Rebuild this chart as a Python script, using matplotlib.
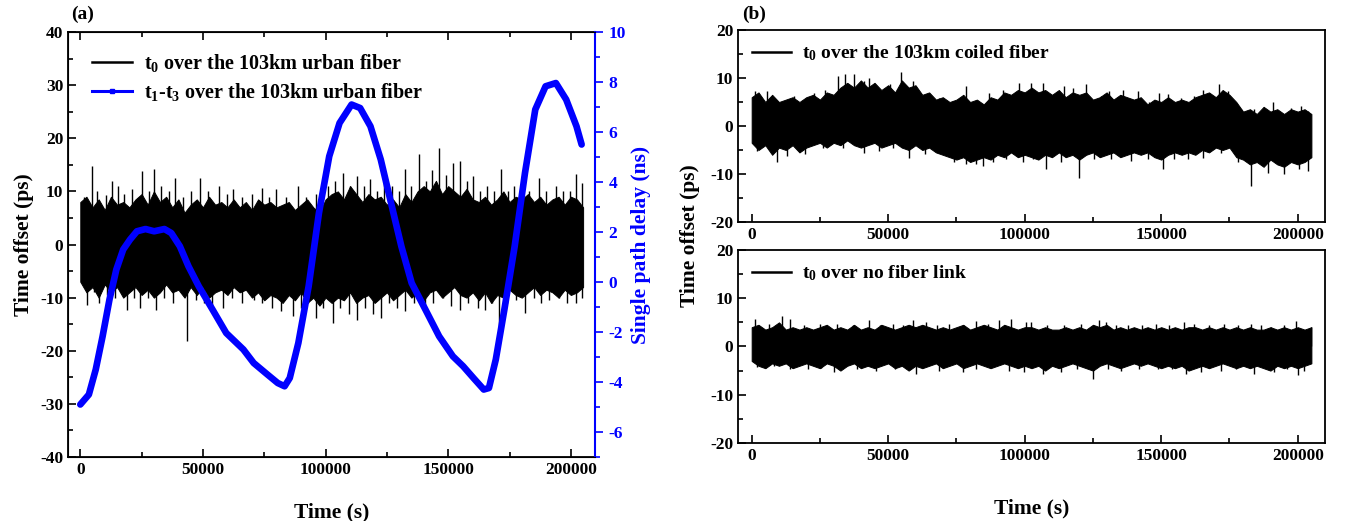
import numpy as np
import matplotlib
matplotlib.use("Agg")
import matplotlib.pyplot as plt
from matplotlib.lines import Line2D
from matplotlib.ticker import MultipleLocator

plt.rcParams['font.family'] = ['Liberation Serif', 'DejaVu Serif']
plt.rcParams['font.weight'] = 'bold'
plt.rcParams['axes.unicode_minus'] = False
plt.rcParams['mathtext.fontset'] = 'custom'
plt.rcParams['mathtext.rm'] = 'Liberation Serif:bold'
plt.rcParams['mathtext.it'] = 'Liberation Serif:bold'
plt.rcParams['mathtext.bf'] = 'Liberation Serif:bold'

# ---- data ----
# single path delay t1-t3 (ns)
delay_t = [0, 3500, 6300, 9100, 11900, 14700, 17500, 20300, 23100, 26600, 30100, 34300,
           37100, 40600, 44100, 48300, 53900, 59500, 66500, 70700, 76300, 80500, 83300,
           85400, 88900, 93100, 97300, 101500, 105700, 110600, 114100, 118300, 122500,
           126700, 130900, 135100, 140700, 146300, 151900, 156100, 160300, 164500, 166600,
           169400, 172900, 177100, 181300, 185500, 189700, 193900, 198100, 202300, 204400]
delay_ns = [-4.9, -4.5, -3.5, -2.17, -0.7, 0.5, 1.3, 1.7, 2.03, 2.12, 2.03, 2.12,
            1.96, 1.43, 0.63, -0.17, -1.1, -2.04, -2.7, -3.24, -3.7, -4.04, -4.17,
            -3.84, -2.44, -0.17, 2.76, 5.03, 6.36, 7.1, 6.96, 6.23, 4.9,
            3.16, 1.43, -0.04, -1.1, -2.17, -2.97, -3.37, -3.84, -4.3, -4.24,
            -3.1, -1.1, 1.43, 4.36, 6.9, 7.83, 7.96, 7.3, 6.23, 5.5]

# t0 traces: edge of the dense black band every 2500 s, plus the single spikes
core_t = list(range(0, 205001, 2500))

urban_hi = [8, 9, 7, 8.5, 6.5, 9, 7.5, 8, 7,
            8.5, 9.5, 7.5, 10, 8, 9, 7, 8.5,
            6, 7.5, 8.5, 7, 9, 7.5, 8, 7,
            8.5, 7, 8, 6.5, 8.5, 7.5, 8, 7,
            7.5, 8, 6.5, 7.5, 8.5, 7, 6, 8.5,
            9.5, 10, 8.5, 11, 9.5, 8, 9.5, 8.5,
            9, 7.5, 8.5, 7, 9.5, 8, 10, 11,
            10, 12, 9.5, 11, 10, 9, 10.5, 8.5,
            8, 9, 7.5, 8.5, 10, 8, 9, 8.5,
            9.5, 8, 9, 7.5, 8.5, 9, 7.5, 9,
            8.5, 7]
urban_lo = [-7, -9, -8, -10, -7.5, -9, -8, -10, -9,
            -8, -9.5, -8.5, -10, -9, -7.5, -9, -8.5,
            -10, -8, -9.5, -8, -10, -9, -8.5, -9.5,
            -8, -9, -8.5, -10, -9, -10.5, -9.5, -10,
            -11, -9.5, -10.5, -9, -11, -10, -11.5, -10,
            -11, -10, -10.5, -9, -11, -10, -9.5, -11,
            -10, -9, -10.5, -9.5, -8.5, -10, -9, -10.5,
            -9, -8.5, -10, -9, -8, -9.5, -10, -9,
            -10.5, -9, -11, -9.5, -10, -8.5, -9.5, -10,
            -9, -8, -9.5, -8.5, -9, -10, -8.5, -9.5,
            -9, -8]
urban_up_t = [1500, 4900, 7000, 10500, 13000, 15400, 18000, 21000, 25200, 28000,
              30100, 33000, 36000, 38500, 42000, 45000, 49000, 52000, 56700, 60000,
              62300, 66000, 70000, 74200, 77000, 79800, 84000, 88900, 92000, 96000,
              98700, 101000, 104000, 107100, 110000, 112700, 115500, 118300, 121000, 123900,
              127000, 130000, 132300, 135000, 137900, 141000, 143500, 146300, 149000, 151900,
              154700, 157500, 160300, 163000, 166000, 168500, 171500, 174500, 177000, 179900,
              183000, 186900, 190000, 193900, 197000, 199500, 202300, 204500]
urban_up_v = [9, 14.8, 10, 9.4, 12, 11, 9.5, 10.5, 13.8, 10,
              14.2, 11, 10, 12.6, 9, 10, 12.6, 10, 11, 9.5,
              10.4, 9, 9.5, 10.7, 9, 10.4, 9, 11, 9, 9.5,
              8.5, 11, 12, 13.5, 11, 12.9, 11, 12.3, 10, 12.3,
              11, 10, 14.2, 11, 17, 12, 14, 18.2, 13, 15.4,
              15.7, 12, 12.9, 10, 11, 10, 14.2, 10, 11, 12.9,
              10, 12.6, 10, 11, 10, 10, 13.2, 11.5]
urban_dn_t = [2800, 5500, 7700, 11000, 14000, 18900, 22000, 24500, 27500, 30800,
              34000, 38000, 43400, 47000, 50500, 53900, 58100, 62000, 66000, 70700,
              74000, 78000, 82000, 86800, 90000, 93000, 95900, 99000, 102900, 106000,
              109500, 112700, 116000, 119500, 122500, 126000, 129000, 132300, 136000, 140700,
              144000, 148000, 151000, 154700, 158000, 162000, 165200, 168000, 170800, 174000,
              177500, 181300, 185000, 188000, 191100, 195000, 198500, 202300, 204500]
urban_dn_v = [-11.3, -9, -11, -9.5, -10, -12.3, -10, -12, -10, -12.3,
              -10, -11, -18.2, -10.5, -11, -12.3, -12, -10, -11, -10.4,
              -11, -12, -12.5, -13.5, -12, -11, -13.8, -12, -14.8, -12,
              -13, -14.2, -12, -13, -13.8, -11, -12, -12.6, -11, -12.3,
              -11, -10, -11.5, -12.3, -11, -12, -12.3, -11, -15.7, -11,
              -10.5, -12.9, -10, -11, -10.4, -10, -11, -11, -10]

coiled_hi = [6, 7, 5, 6.5, 5, 5.5, 6, 5, 6,
             6.5, 5.5, 7, 6.5, 8, 9, 8, 9.5,
             8, 9, 7.5, 8.5, 7, 9.5, 8, 8.5,
             6.5, 7, 5.5, 6, 5, 5.5, 6.5, 5,
             5.5, 4.5, 6, 5.5, 7, 6.5, 7.5, 7,
             8, 7, 7.5, 6.5, 7.5, 6, 7, 6.5,
             7, 5.5, 6, 7, 5.5, 6.5, 6, 5.5,
             6, 4.5, 5.5, 5, 6, 5, 5.5, 5,
             6, 6.5, 7, 6, 7.5, 6.5, 5, 3,
             3.5, 2.5, 4, 3, 3.5, 2.5, 3.5, 3,
             3.5, 2.5]
coiled_lo = [-3.5, -5, -4, -6, -4.5, -5, -4, -5.5, -4.5,
             -4, -3.5, -4.5, -3.5, -4, -3, -4, -4.5,
             -4, -3.5, -4.5, -4, -3.5, -4.5, -5, -4,
             -5, -4.5, -5.5, -6, -6.5, -7, -6.5, -7.5,
             -7, -6.5, -7, -6, -6.5, -5.5, -6.5, -6,
             -6.5, -7, -6, -6.5, -5.5, -6.5, -6, -7,
             -6, -5.5, -6.5, -6, -5.5, -6.5, -6, -5.5,
             -6, -5.5, -6.5, -7, -6, -5.5, -6, -5.5,
             -6, -5, -5.5, -4.5, -5, -4.5, -6.5, -7,
             -8, -7.5, -8.5, -7, -8, -8.5, -7.5, -8,
             -7.5, -6.5]
coiled_up_t = [1100, 5500, 11700, 15400, 22700, 26700, 31800, 34000, 37300, 41000,
               43100, 45700, 50500, 54800, 59200, 64000, 68700, 73900, 78600, 82300,
               87000, 92100, 98000, 102400, 106800, 114400, 117700, 122500, 128000, 131000,
               136000, 141500, 145500, 149200, 152500, 157200, 162000, 165300, 171100, 174400,
               179200, 183900, 190800, 197400, 201100, 203600]
coiled_up_v = [7.3, 7.3, 5.2, 6.2, 6.9, 7.6, 10.4, 10.8, 10.8, 9.4,
               10.1, 8.3, 8.7, 11.3, 9.4, 6.6, 5.9, 5.2, 8.3, 4.9,
               6.9, 7.6, 9.0, 9.0, 9.0, 8.3, 8.0, 8.7, 6.2, 7.3,
               7.6, 7.3, 4.9, 6.9, 6.6, 5.9, 6.2, 7.6, 8.7, 7.3,
               3.5, 3.5, 4.9, 3.8, 4.2, 3.1]
coiled_dn_t = [1800, 9100, 12800, 19400, 26300, 33600, 41000, 46800, 51900, 57800,
               63300, 68700, 74200, 78600, 82300, 84800, 88500, 93200, 99500, 103100,
               107900, 113400, 119900, 125400, 131600, 138900, 145100, 150600, 154700, 159800,
               165300, 171800, 178000, 182800, 189000, 194900, 200400, 203600]
coiled_dn_v = [-5.2, -7.6, -6.2, -5.9, -4.5, -4.5, -5.6, -5.2, -4.5, -6.6,
               -5.9, -5.6, -7.6, -8.0, -8.0, -8.3, -7.6, -6.9, -7.6, -6.9,
               -9.0, -7.6, -10.8, -6.9, -6.9, -7.3, -6.9, -9.0, -6.9, -6.9,
               -6.6, -5.6, -7.6, -12.5, -9.7, -10.1, -9.0, -9.4]

nolink_hi = [4, 4.5, 3.5, 4, 5, 3.5, 4, 3.5, 4,
             3.5, 4, 4.5, 3.5, 4, 3.5, 4.5, 3.5,
             4, 3.5, 4.5, 4, 3.5, 4, 4.5, 4,
             4.5, 4, 3.5, 4, 3.5, 4, 4.5, 3.5,
             4, 4.5, 4, 3.5, 4.5, 4, 3.5, 4,
             4, 3.5, 4, 3.5, 3.5, 4, 3.5, 4,
             3.5, 4.5, 4, 4.5, 3.5, 4, 3.5, 4,
             3.5, 4, 3.5, 4, 3.5, 4, 3.5, 4,
             4, 3.5, 4, 3.5, 4, 3.5, 4, 3.5,
             4, 3.5, 3.5, 4, 3.5, 4, 3.5, 4,
             3.5, 4]
nolink_lo = [-3, -4, -4.5, -3.5, -4, -3.5, -4.5, -4, -3.5,
             -4, -4.5, -3.5, -4, -5, -4, -3.5, -4.5,
             -4, -4.5, -4, -3.5, -4.5, -4, -5, -4,
             -4.5, -4, -3.5, -4.5, -4, -3.5, -4.5, -4,
             -3.5, -4, -4.5, -4, -3.5, -4, -4.5, -4,
             -4.5, -4, -5, -4, -4.5, -4, -3.5, -4,
             -4.5, -5, -4, -3.5, -4, -4.5, -4, -3.5,
             -4, -3.5, -4, -4.5, -4, -4.5, -4, -5,
             -4.5, -4, -4.5, -4, -3.5, -4, -4.5, -4,
             -4.5, -4, -4.5, -5, -4, -4.5, -4, -4.5,
             -4, -3.5]
nolink_up_t = [1100, 6200, 11000, 13900, 19000, 24900, 31100, 37000, 42800, 47000,
               51900, 55500, 59200, 64000, 68000, 72400, 77500, 82300, 86500, 90700,
               95000, 100500, 102400, 108000, 114400, 120500, 127200, 129800, 133500, 137800,
               143000, 148100, 153000, 158300, 162000, 167500, 173000, 178000, 182800, 186500,
               190100, 195000, 199300, 204800]
nolink_up_v = [5.8, 4.7, 6.4, 5.8, 4.5, 4.7, 4.7, 4.5, 5.4, 4.5,
               4.7, 4.5, 5.4, 5.1, 4.5, 4.7, 4.5, 5.3, 4.6, 5.4,
               5.6, 5.1, 5.1, 4.5, 4.4, 4.6, 5.4, 5.1, 4.5, 4.4,
               4.5, 4.7, 4.5, 5.1, 4.7, 4.5, 4.7, 4.5, 4.7, 4.5,
               4.0, 4.5, 5.3, 4.0]
nolink_dn_t = [1800, 8000, 13900, 20800, 25500, 30300, 38400, 45700, 52500, 60300,
               68700, 77500, 82000, 87000, 94300, 99800, 106800, 113400, 119000, 125000,
               130500, 135200, 142000, 148800, 154000, 159000, 164500, 171800, 177500, 183900,
               191200, 196000, 200000, 202200]
nolink_dn_v = [-4.3, -4.0, -4.7, -4.7, -4.5, -5.3, -4.7, -5.0, -4.6, -5.7,
               -5.0, -5.3, -4.6, -4.3, -5.0, -5.3, -5.7, -5.3, -4.6, -6.7,
               -4.6, -5.0, -4.6, -4.7, -4.6, -5.7, -5.3, -5.0, -4.6, -5.7,
               -5.3, -4.7, -6.0, -5.0]

x_ticks = [0, 50000, 100000, 150000, 200000]


def draw_noise(ax, hi, lo, up_t, up_v, dn_t, dn_v):
    ax.fill_between(core_t, lo, hi, color='black', lw=0.7)
    ax.vlines(up_t, 0, up_v, color='black', lw=1.0)
    ax.vlines(dn_t, 0, dn_v, color='black', lw=1.0)


def style_axis(ax, ymaj, ymin, top=False):
    ax.set_xticks(x_ticks)
    ax.xaxis.set_minor_locator(MultipleLocator(25000))
    ax.yaxis.set_major_locator(MultipleLocator(ymaj))
    ax.yaxis.set_minor_locator(MultipleLocator(ymin))
    ax.ticklabel_format(axis='x', style='plain', useOffset=False)
    ax.tick_params(which='both', direction='in', top=top, right=False, labelsize=12.5, width=1.2)
    ax.tick_params(which='major', length=6)
    ax.tick_params(which='minor', length=3.5)
    for s in ax.spines.values():
        s.set_linewidth(1.3)


fig = plt.figure(figsize=(13.47, 5.21), dpi=100)

# ---- panel (a) ----
ax1 = fig.add_axes([0.0505, 0.1228, 0.3915, 0.8157])
draw_noise(ax1, urban_hi, urban_lo, urban_up_t, urban_up_v, urban_dn_t, urban_dn_v)
ax1.set_xlim(-5000, 210000)
ax1.set_ylim(-40, 40)
style_axis(ax1, 10, 5, top=True)
ax1.set_xlabel('Time (s)', fontsize=15.5, fontweight='bold', labelpad=18)
ax1.set_ylabel('Time offset (ps)', fontsize=15.5, fontweight='bold', labelpad=4)

ax2 = ax1.twinx()
ax2.plot(delay_t, delay_ns, color='blue', lw=4.8, solid_capstyle='round', solid_joinstyle='round')
ax2.set_ylim(-7, 10)
ax2.yaxis.set_major_locator(MultipleLocator(2))
ax2.yaxis.set_minor_locator(MultipleLocator(1))
ax2.tick_params(axis='y', which='both', direction='out', colors='blue', labelsize=12.5, width=1.2)
ax2.tick_params(axis='y', which='major', length=6)
ax2.tick_params(axis='y', which='minor', length=3.5)
ax2.spines['right'].set_color('blue')
ax2.spines['right'].set_linewidth(1.5)
ax2.set_ylabel('Single path delay (ns)', color='blue', fontsize=15.5, fontweight='bold', labelpad=4)

h1 = Line2D([], [], color='black', lw=1.8)
h2 = Line2D([], [], color='blue', lw=2.2, marker='s', markersize=3.5)
ax2.legend([h1, h2], [r't$_0$ over the 103km urban fiber', r't$_1$-t$_3$ over the 103km urban fiber'],
           loc='upper left', frameon=False, fontsize=14.5, handlelength=2.0, handletextpad=0.6,
           borderaxespad=0.4, labelspacing=0.35, bbox_to_anchor=(0.015, 0.99))
fig.text(0.061, 0.972, '(a)', fontsize=14, fontweight='bold', ha='center', va='center')

# ---- panel (b) ----
ax3 = fig.add_axes([0.5479, 0.5739, 0.4358, 0.3685])
draw_noise(ax3, coiled_hi, coiled_lo, coiled_up_t, coiled_up_v, coiled_dn_t, coiled_dn_v)
ax3.set_xlim(-5000, 210000)
ax3.set_ylim(-20, 20)
style_axis(ax3, 10, 5)
ax3.legend([Line2D([], [], color='black', lw=1.8)], [r't$_0$ over the 103km coiled fiber'],
           loc='upper left', frameon=False, fontsize=14, handlelength=2.0, handletextpad=0.6,
           borderaxespad=0.3)

ax4 = fig.add_axes([0.5479, 0.1497, 0.4358, 0.3705])
draw_noise(ax4, nolink_hi, nolink_lo, nolink_up_t, nolink_up_v, nolink_dn_t, nolink_dn_v)
ax4.set_xlim(-5000, 210000)
ax4.set_ylim(-20, 20)
style_axis(ax4, 10, 5)
ax4.legend([Line2D([], [], color='black', lw=1.8)], [r't$_0$ over no fiber link'],
           loc='upper left', frameon=False, fontsize=14, handlelength=2.0, handletextpad=0.6,
           borderaxespad=0.3)
ax4.set_xlabel('Time (s)', fontsize=15.5, fontweight='bold', labelpad=25)

fig.text(0.512, 0.547, 'Time offset (ps)', rotation=90, fontsize=15.5, fontweight='bold',
         ha='center', va='center')
fig.text(0.5595, 0.972, '(b)', fontsize=14, fontweight='bold', ha='center', va='center')

fig.savefig('out.png', dpi=100)
